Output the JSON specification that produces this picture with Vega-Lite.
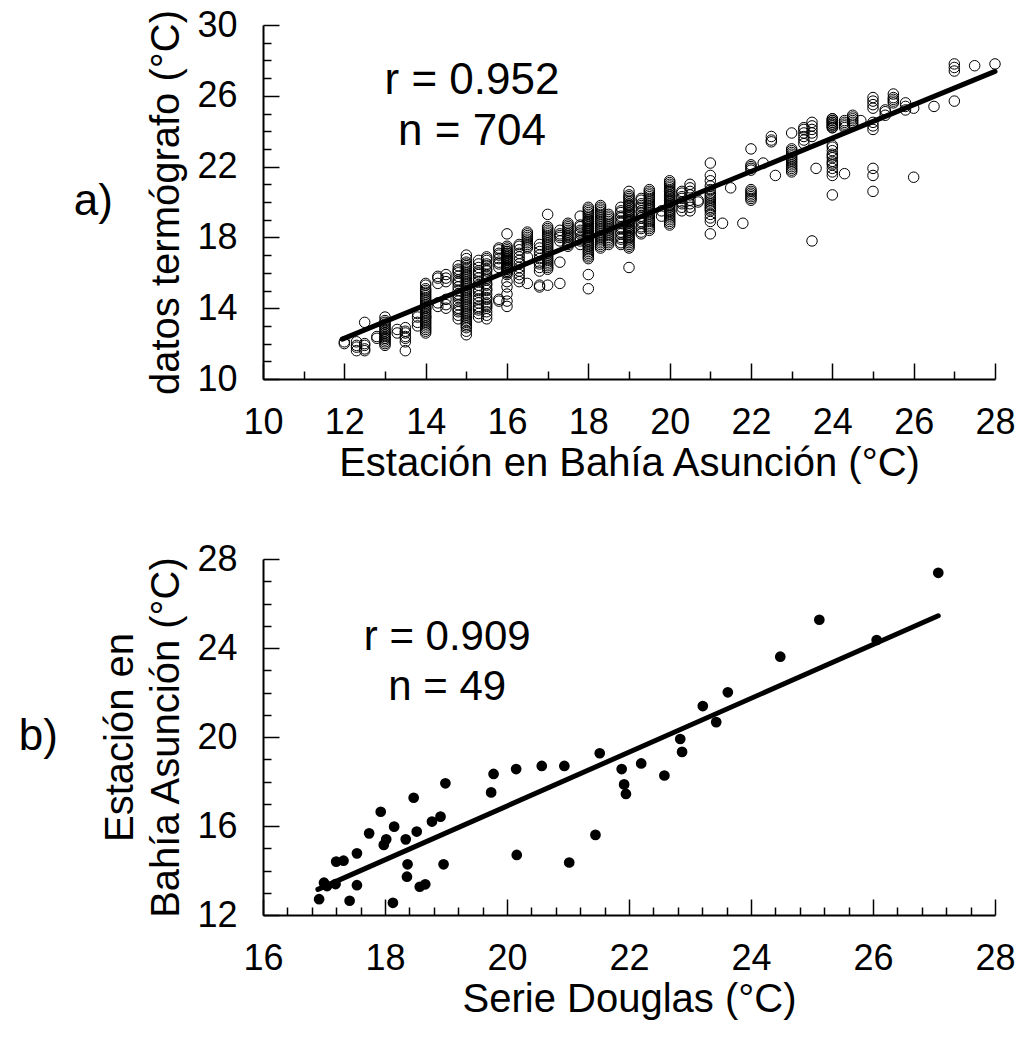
{
  "$schema": "https://vega.github.io/schema/vega-lite/v6.json",
  "background": "white",
  "padding": {"left": 18, "top": 7, "right": 4, "bottom": 4},
  "spacing": 58,
  "config": {
    "view": {"stroke": null},
    "font": "Liberation Sans",
    "axis": {
      "grid": false,
      "domainColor": "black",
      "domainWidth": 2,
      "tickColor": "black",
      "tickWidth": 1.5,
      "labelFont": "Liberation Sans",
      "labelFontSize": 36,
      "labelColor": "black",
      "labelFlush": false,
      "labelOverlap": false,
      "labelBound": false,
      "labelPadding": 42,
      "titleFont": "Liberation Sans",
      "titleFontSize": 40,
      "titleFontWeight": "normal",
      "titleColor": "black"
    },
    "title": {"font": "Liberation Sans", "fontSize": 44, "fontWeight": "normal", "color": "black"}
  },
  "datasets": {
    "termografo": [
      {"x":12,"y":12},{"x":12,"y":12.1},
      {"x":12.3,"y":11.6},{"x":12.3,"y":11.8},{"x":12.3,"y":11.9},{"x":12.3,"y":12.1},
      {"x":12.5,"y":11.6},{"x":12.5,"y":11.7},{"x":12.5,"y":11.9},{"x":12.5,"y":12},{"x":12.5,"y":13.2},
      {"x":12.8,"y":12.3},{"x":12.8,"y":12.4},
      {"x":13,"y":11.9},{"x":13,"y":12},{"x":13,"y":12.1},{"x":13,"y":12.2},{"x":13,"y":12.3},{"x":13,"y":12.3},{"x":13,"y":12.4},{"x":13,"y":12.5},{"x":13,"y":12.6},{"x":13,"y":12.6},{"x":13,"y":12.7},{"x":13,"y":12.8},{"x":13,"y":12.9},{"x":13,"y":13},{"x":13,"y":13.1},{"x":13,"y":13.2},{"x":13,"y":13.3},{"x":13,"y":13.5},
      {"x":13.3,"y":12.6},{"x":13.3,"y":12.8},
      {"x":13.5,"y":11.6},{"x":13.5,"y":12.1},{"x":13.5,"y":12.3},{"x":13.5,"y":12.4},{"x":13.5,"y":12.6},{"x":13.5,"y":12.7},{"x":13.5,"y":12.9},
      {"x":13.8,"y":13},{"x":13.8,"y":13.2},{"x":13.8,"y":13.5},{"x":13.8,"y":13.7},
      {"x":14,"y":12.6},{"x":14,"y":12.7},{"x":14,"y":12.8},{"x":14,"y":12.9},{"x":14,"y":13},{"x":14,"y":13.1},{"x":14,"y":13.2},{"x":14,"y":13.3},{"x":14,"y":13.4},{"x":14,"y":13.5},{"x":14,"y":13.6},{"x":14,"y":13.7},{"x":14,"y":13.8},{"x":14,"y":13.9},{"x":14,"y":14},{"x":14,"y":14.1},{"x":14,"y":14.2},{"x":14,"y":14.3},{"x":14,"y":14.4},{"x":14,"y":14.5},{"x":14,"y":14.6},{"x":14,"y":14.7},{"x":14,"y":14.8},{"x":14,"y":14.9},{"x":14,"y":15},{"x":14,"y":15.1},{"x":14,"y":15.3},{"x":14,"y":15.4},{"x":14,"y":13.5},{"x":14,"y":14},
      {"x":14.3,"y":14.1},{"x":14.3,"y":14.3},{"x":14.3,"y":15.4},{"x":14.3,"y":15.7},{"x":14.3,"y":15.8},
      {"x":14.5,"y":14},{"x":14.5,"y":14.2},{"x":14.5,"y":14.5},{"x":14.5,"y":15.5},{"x":14.5,"y":15.7},{"x":14.5,"y":15.9},
      {"x":14.8,"y":13.4},{"x":14.8,"y":13.6},{"x":14.8,"y":13.8},{"x":14.8,"y":13.9},{"x":14.8,"y":14},{"x":14.8,"y":14.2},{"x":14.8,"y":14.4},{"x":14.8,"y":14.6},{"x":14.8,"y":14.7},{"x":14.8,"y":14.8},{"x":14.8,"y":15},{"x":14.8,"y":15.2},{"x":14.8,"y":15.4},{"x":14.8,"y":15.5},{"x":14.8,"y":15.6},{"x":14.8,"y":15.8},{"x":14.8,"y":16},{"x":14.8,"y":16.1},{"x":14.8,"y":16.2},{"x":14.8,"y":16.4},
      {"x":15,"y":12.5},{"x":15,"y":12.7},{"x":15,"y":12.9},{"x":15,"y":13},{"x":15,"y":13.1},{"x":15,"y":13.2},{"x":15,"y":13.3},{"x":15,"y":13.4},{"x":15,"y":13.5},{"x":15,"y":13.6},{"x":15,"y":13.7},{"x":15,"y":13.8},{"x":15,"y":13.9},{"x":15,"y":14},{"x":15,"y":14.1},{"x":15,"y":14.2},{"x":15,"y":14.3},{"x":15,"y":14.4},{"x":15,"y":14.5},{"x":15,"y":14.6},{"x":15,"y":14.7},{"x":15,"y":14.8},{"x":15,"y":14.9},{"x":15,"y":15},{"x":15,"y":15.1},{"x":15,"y":15.2},{"x":15,"y":15.3},{"x":15,"y":15.4},{"x":15,"y":15.5},{"x":15,"y":15.6},{"x":15,"y":15.7},{"x":15,"y":15.8},{"x":15,"y":15.9},{"x":15,"y":16},{"x":15,"y":16.1},{"x":15,"y":16.2},{"x":15,"y":16.3},{"x":15,"y":16.4},{"x":15,"y":16.5},{"x":15,"y":16.6},{"x":15,"y":16.8},{"x":15,"y":17},
      {"x":15.3,"y":13.5},{"x":15.3,"y":13.7},{"x":15.3,"y":13.9},{"x":15.3,"y":14},{"x":15.3,"y":14.1},{"x":15.3,"y":14.3},{"x":15.3,"y":14.5},{"x":15.3,"y":14.7},{"x":15.3,"y":14.9},{"x":15.3,"y":15},{"x":15.3,"y":15.1},{"x":15.3,"y":15.3},{"x":15.3,"y":15.5},{"x":15.3,"y":15.7},{"x":15.3,"y":15.9},{"x":15.3,"y":16},{"x":15.3,"y":16.1},{"x":15.3,"y":16.3},{"x":15.3,"y":16.5},{"x":15.3,"y":16.7},
      {"x":15.5,"y":13.4},{"x":15.5,"y":13.6},{"x":15.5,"y":13.8},{"x":15.5,"y":14},{"x":15.5,"y":14.1},{"x":15.5,"y":14.2},{"x":15.5,"y":14.3},{"x":15.5,"y":14.5},{"x":15.5,"y":14.6},{"x":15.5,"y":14.8},{"x":15.5,"y":15},{"x":15.5,"y":15.1},{"x":15.5,"y":15.3},{"x":15.5,"y":15.4},{"x":15.5,"y":15.6},{"x":15.5,"y":15.7},{"x":15.5,"y":15.8},{"x":15.5,"y":15.9},{"x":15.5,"y":16.1},{"x":15.5,"y":16.2},{"x":15.5,"y":16.4},{"x":15.5,"y":16.5},{"x":15.5,"y":16.7},{"x":15.5,"y":16.8},{"x":15.5,"y":16.9},
      {"x":15.8,"y":14.4},{"x":15.8,"y":14.5},{"x":15.8,"y":16.3},{"x":15.8,"y":16.5},{"x":15.8,"y":16.6},{"x":15.8,"y":16.8},{"x":15.8,"y":17},{"x":15.8,"y":17.1},{"x":15.8,"y":17.3},{"x":15.8,"y":17.4},
      {"x":16,"y":14.1},{"x":16,"y":14.4},{"x":16,"y":14.8},{"x":16,"y":15.2},{"x":16,"y":15.5},{"x":16,"y":18.2},{"x":16,"y":15.9},{"x":16,"y":16},{"x":16,"y":16.1},{"x":16,"y":16.2},{"x":16,"y":16.3},{"x":16,"y":16.4},{"x":16,"y":16.5},{"x":16,"y":16.6},{"x":16,"y":16.7},{"x":16,"y":16.8},{"x":16,"y":16.9},{"x":16,"y":17},{"x":16,"y":17.1},{"x":16,"y":17.2},{"x":16,"y":17.3},{"x":16,"y":17.4},{"x":16,"y":17.5},{"x":16,"y":16},{"x":16,"y":16.2},{"x":16,"y":16.3},{"x":16,"y":16.4},{"x":16,"y":16.5},{"x":16,"y":16.6},{"x":16,"y":16.7},{"x":16,"y":16.8},{"x":16,"y":16.9},{"x":16,"y":17},{"x":16,"y":17.1},{"x":16,"y":17.2},
      {"x":16.3,"y":15.5},{"x":16.3,"y":15.7},{"x":16.3,"y":15.9},{"x":16.3,"y":16.1},{"x":16.3,"y":16.3},{"x":16.3,"y":16.5},{"x":16.3,"y":16.7},{"x":16.3,"y":16.9},{"x":16.3,"y":17.1},{"x":16.3,"y":17.3},{"x":16.3,"y":17.5},{"x":16.3,"y":17.6},
      {"x":16.5,"y":15.4},{"x":16.5,"y":16.9},{"x":16.5,"y":17.4},{"x":16.5,"y":17.5},{"x":16.5,"y":17.6},{"x":16.5,"y":17.7},{"x":16.5,"y":17.8},{"x":16.5,"y":17.9},{"x":16.5,"y":18},{"x":16.5,"y":18.1},{"x":16.5,"y":18.2},{"x":16.5,"y":18.3},
      {"x":16.8,"y":15.2},{"x":16.8,"y":15.3},{"x":16.8,"y":16.1},{"x":16.8,"y":16.3},{"x":16.8,"y":16.5},{"x":16.8,"y":16.6},{"x":16.8,"y":16.8},{"x":16.8,"y":17},{"x":16.8,"y":17.2},{"x":16.8,"y":17.4},{"x":16.8,"y":17.6},
      {"x":17,"y":15.3},{"x":17,"y":19.3},{"x":17,"y":16.2},{"x":17,"y":16.3},{"x":17,"y":16.4},{"x":17,"y":16.5},{"x":17,"y":16.6},{"x":17,"y":16.7},{"x":17,"y":16.8},{"x":17,"y":16.9},{"x":17,"y":17},{"x":17,"y":17.1},{"x":17,"y":17.2},{"x":17,"y":17.3},{"x":17,"y":17.4},{"x":17,"y":17.5},{"x":17,"y":17.6},{"x":17,"y":17.7},{"x":17,"y":17.8},{"x":17,"y":17.9},{"x":17,"y":18},{"x":17,"y":18.1},{"x":17,"y":18.2},{"x":17,"y":18.3},{"x":17,"y":18.4},{"x":17,"y":18.5},{"x":17,"y":18.6},
      {"x":17.3,"y":15.4},{"x":17.3,"y":16.6},{"x":17.3,"y":17.8},{"x":17.3,"y":18},{"x":17.3,"y":18.1},{"x":17.3,"y":18.2},{"x":17.3,"y":18.4},
      {"x":17.5,"y":17.5},{"x":17.5,"y":17.6},{"x":17.5,"y":17.7},{"x":17.5,"y":17.8},{"x":17.5,"y":17.9},{"x":17.5,"y":18},{"x":17.5,"y":18.1},{"x":17.5,"y":18.2},{"x":17.5,"y":18.3},{"x":17.5,"y":18.4},{"x":17.5,"y":18.5},{"x":17.5,"y":18.6},{"x":17.5,"y":18.7},{"x":17.5,"y":18.8},
      {"x":17.8,"y":17.6},{"x":17.8,"y":17.8},{"x":17.8,"y":17.9},{"x":17.8,"y":18},{"x":17.8,"y":18.2},{"x":17.8,"y":18.3},{"x":17.8,"y":18.4},{"x":17.8,"y":18.6},{"x":17.8,"y":18.7},{"x":17.8,"y":19.2},
      {"x":18,"y":15.1},{"x":18,"y":15.9},{"x":18,"y":16.8},{"x":18,"y":16.9},{"x":18,"y":17},{"x":18,"y":17.1},{"x":18,"y":17.2},{"x":18,"y":17.3},{"x":18,"y":17.4},{"x":18,"y":17.5},{"x":18,"y":17.6},{"x":18,"y":17.7},{"x":18,"y":17.8},{"x":18,"y":17.9},{"x":18,"y":18},{"x":18,"y":18.1},{"x":18,"y":18.2},{"x":18,"y":18.3},{"x":18,"y":18.4},{"x":18,"y":18.5},{"x":18,"y":18.6},{"x":18,"y":18.7},{"x":18,"y":18.8},{"x":18,"y":18.9},{"x":18,"y":19},{"x":18,"y":19.1},{"x":18,"y":19.2},{"x":18,"y":19.3},{"x":18,"y":19.4},{"x":18,"y":19.5},{"x":18,"y":19.6},{"x":18,"y":19.7},{"x":18,"y":17.5},{"x":18,"y":17.8},{"x":18,"y":18},{"x":18,"y":18.2},{"x":18,"y":18.4},{"x":18,"y":18.6},{"x":18,"y":18.8},{"x":18,"y":19},{"x":18,"y":18.1},{"x":18,"y":18.3},{"x":18,"y":18.5},{"x":18,"y":18.7},{"x":18,"y":18.9},
      {"x":18.3,"y":17.4},{"x":18.3,"y":17.5},{"x":18.3,"y":17.6},{"x":18.3,"y":17.7},{"x":18.3,"y":17.8},{"x":18.3,"y":17.9},{"x":18.3,"y":18},{"x":18.3,"y":18.1},{"x":18.3,"y":18.2},{"x":18.3,"y":18.3},{"x":18.3,"y":18.4},{"x":18.3,"y":18.5},{"x":18.3,"y":18.6},{"x":18.3,"y":18.7},{"x":18.3,"y":18.8},{"x":18.3,"y":18.9},{"x":18.3,"y":19},{"x":18.3,"y":19.1},{"x":18.3,"y":19.2},{"x":18.3,"y":19.3},{"x":18.3,"y":19.4},{"x":18.3,"y":19.5},{"x":18.3,"y":19.6},{"x":18.3,"y":19.7},{"x":18.3,"y":19.8},
      {"x":18.5,"y":17.6},{"x":18.5,"y":17.7},{"x":18.5,"y":17.8},{"x":18.5,"y":17.9},{"x":18.5,"y":18},{"x":18.5,"y":18.1},{"x":18.5,"y":18.2},{"x":18.5,"y":18.3},{"x":18.5,"y":18.4},{"x":18.5,"y":18.5},{"x":18.5,"y":18.6},{"x":18.5,"y":18.7},{"x":18.5,"y":18.8},{"x":18.5,"y":18.9},{"x":18.5,"y":19},{"x":18.5,"y":19.1},{"x":18.5,"y":19.2},{"x":18.5,"y":19.3},
      {"x":18.8,"y":17.6},{"x":18.8,"y":17.7},{"x":18.8,"y":17.9},{"x":18.8,"y":18},{"x":18.8,"y":18.2},{"x":18.8,"y":18.3},{"x":18.8,"y":18.5},{"x":18.8,"y":18.6},{"x":18.8,"y":18.8},{"x":18.8,"y":18.9},{"x":18.8,"y":19.1},{"x":18.8,"y":19.2},{"x":18.8,"y":19.4},{"x":18.8,"y":19.5},{"x":18.8,"y":19.7},
      {"x":19,"y":16.3},{"x":19,"y":20.6},{"x":19,"y":17.4},{"x":19,"y":17.5},{"x":19,"y":17.6},{"x":19,"y":17.7},{"x":19,"y":17.8},{"x":19,"y":17.9},{"x":19,"y":18},{"x":19,"y":18.1},{"x":19,"y":18.2},{"x":19,"y":18.3},{"x":19,"y":18.4},{"x":19,"y":18.5},{"x":19,"y":18.6},{"x":19,"y":18.7},{"x":19,"y":18.8},{"x":19,"y":18.9},{"x":19,"y":19},{"x":19,"y":19.1},{"x":19,"y":19.2},{"x":19,"y":19.3},{"x":19,"y":19.4},{"x":19,"y":19.5},{"x":19,"y":19.6},{"x":19,"y":19.7},{"x":19,"y":19.8},{"x":19,"y":19.9},{"x":19,"y":20},{"x":19,"y":20.1},{"x":19,"y":20.2},{"x":19,"y":20.3},{"x":19,"y":20.4},{"x":19,"y":18},{"x":19,"y":18.3},{"x":19,"y":18.6},{"x":19,"y":18.9},{"x":19,"y":19.2},{"x":19,"y":19.5},{"x":19,"y":19.8},{"x":19,"y":18.4},{"x":19,"y":19},
      {"x":19.3,"y":18.2},{"x":19.3,"y":18.3},{"x":19.3,"y":18.5},{"x":19.3,"y":18.6},{"x":19.3,"y":18.8},{"x":19.3,"y":18.9},{"x":19.3,"y":19.1},{"x":19.3,"y":19.2},{"x":19.3,"y":19.4},{"x":19.3,"y":19.5},{"x":19.3,"y":19.7},{"x":19.3,"y":19.8},{"x":19.3,"y":19.9},{"x":19.3,"y":20.1},{"x":19.3,"y":20.2},
      {"x":19.5,"y":18.4},{"x":19.5,"y":18.5},{"x":19.5,"y":18.6},{"x":19.5,"y":18.7},{"x":19.5,"y":18.8},{"x":19.5,"y":18.9},{"x":19.5,"y":19},{"x":19.5,"y":19.1},{"x":19.5,"y":19.2},{"x":19.5,"y":19.3},{"x":19.5,"y":19.4},{"x":19.5,"y":19.5},{"x":19.5,"y":19.6},{"x":19.5,"y":19.7},{"x":19.5,"y":19.8},{"x":19.5,"y":19.9},{"x":19.5,"y":20},{"x":19.5,"y":20.1},{"x":19.5,"y":20.2},{"x":19.5,"y":20.3},{"x":19.5,"y":20.4},{"x":19.5,"y":20.5},{"x":19.5,"y":20.6},{"x":19.5,"y":20.7},{"x":19.5,"y":19.6},
      {"x":19.8,"y":19.2},{"x":19.8,"y":19.5},
      {"x":20,"y":18.7},{"x":20,"y":18.8},{"x":20,"y":18.9},{"x":20,"y":19},{"x":20,"y":19.1},{"x":20,"y":19.2},{"x":20,"y":19.3},{"x":20,"y":19.4},{"x":20,"y":19.5},{"x":20,"y":19.6},{"x":20,"y":19.7},{"x":20,"y":19.8},{"x":20,"y":19.9},{"x":20,"y":20},{"x":20,"y":20.1},{"x":20,"y":20.2},{"x":20,"y":20.3},{"x":20,"y":20.4},{"x":20,"y":20.5},{"x":20,"y":20.6},{"x":20,"y":20.7},{"x":20,"y":20.8},{"x":20,"y":20.9},{"x":20,"y":21},{"x":20,"y":21.1},{"x":20,"y":21.2},{"x":20,"y":19.5},{"x":20,"y":19.8},{"x":20,"y":20.1},{"x":20,"y":20.4},{"x":20,"y":20.6},{"x":20,"y":20},{"x":20,"y":20.3},
      {"x":20.3,"y":19.5},{"x":20.3,"y":19.7},{"x":20.3,"y":19.9},{"x":20.3,"y":20},{"x":20.3,"y":20.2},{"x":20.3,"y":20.3},{"x":20.3,"y":20.5},{"x":20.3,"y":20.6},
      {"x":20.5,"y":19.5},{"x":20.5,"y":19.7},{"x":20.5,"y":19.9},{"x":20.5,"y":20.1},{"x":20.5,"y":20.4},{"x":20.5,"y":20.6},{"x":20.5,"y":20.8},{"x":20.5,"y":21},
      {"x":20.7,"y":20},{"x":20.7,"y":20.1},
      {"x":21,"y":22.2},{"x":21,"y":21.5},{"x":21,"y":21.2},{"x":21,"y":20.9},{"x":21,"y":20.7},{"x":21,"y":20.4},{"x":21,"y":20.3},{"x":21,"y":20.2},{"x":21,"y":20.1},{"x":21,"y":20},{"x":21,"y":19.9},{"x":21,"y":19.8},{"x":21,"y":19.7},{"x":21,"y":19.6},{"x":21,"y":19.5},{"x":21,"y":19.3},{"x":21,"y":19.1},{"x":21,"y":18.9},{"x":21,"y":18.2},{"x":21,"y":20.5},
      {"x":21.3,"y":18.8},{"x":21.5,"y":20.8},{"x":21.8,"y":18.8},
      {"x":22,"y":23},{"x":22,"y":22.1},{"x":22,"y":22},{"x":22,"y":21.9},{"x":22,"y":21.8},{"x":22,"y":20.7},{"x":22,"y":20.6},{"x":22,"y":20.5},{"x":22,"y":20.4},{"x":22,"y":20.3},{"x":22,"y":20.2},{"x":22,"y":20.1},
      {"x":22.3,"y":22.2},
      {"x":22.5,"y":23.4},{"x":22.5,"y":23.5},{"x":22.5,"y":23.7},
      {"x":22.6,"y":21.5},
      {"x":23,"y":23.9},{"x":23,"y":23},{"x":23,"y":22.9},{"x":23,"y":22.8},{"x":23,"y":22.7},{"x":23,"y":22.6},{"x":23,"y":22.5},{"x":23,"y":22.4},{"x":23,"y":22.3},{"x":23,"y":22.2},{"x":23,"y":22.1},{"x":23,"y":22},{"x":23,"y":21.9},{"x":23,"y":21.8},{"x":23,"y":21.7},
      {"x":23.3,"y":23.3},{"x":23.3,"y":23.5},{"x":23.3,"y":23.7},{"x":23.3,"y":23.9},{"x":23.3,"y":24.1},{"x":23.3,"y":24.2},
      {"x":23.5,"y":17.8},{"x":23.5,"y":23.7},{"x":23.5,"y":23.9},{"x":23.5,"y":24.1},{"x":23.5,"y":24.3},{"x":23.5,"y":24.5},
      {"x":23.6,"y":21.9},
      {"x":24,"y":24.2},{"x":24,"y":24.3},{"x":24,"y":24.4},{"x":24,"y":24.5},{"x":24,"y":24.6},{"x":24,"y":24.7},{"x":24,"y":24.3},{"x":24,"y":24.5},{"x":24,"y":24.6},{"x":24,"y":24.4},{"x":24,"y":21.5},{"x":24,"y":21.7},{"x":24,"y":21.9},{"x":24,"y":22.1},{"x":24,"y":22.3},{"x":24,"y":22.5},{"x":24,"y":22.7},{"x":24,"y":22.9},{"x":24,"y":23.1},{"x":24,"y":23.2},{"x":24,"y":22.2},{"x":24,"y":22.6},{"x":24,"y":20.4},{"x":24,"y":24.2},{"x":24,"y":24.7},
      {"x":24.3,"y":21.6},{"x":24.3,"y":24.2},{"x":24.3,"y":24.3},{"x":24.3,"y":24.4},{"x":24.3,"y":24.5},{"x":24.3,"y":24.6},
      {"x":24.5,"y":24.4},{"x":24.5,"y":24.5},{"x":24.5,"y":24.6},{"x":24.5,"y":24.7},{"x":24.5,"y":24.8},{"x":24.5,"y":24.9},
      {"x":24.7,"y":24.6},
      {"x":25,"y":20.6},{"x":25,"y":21.5},{"x":25,"y":21.9},{"x":25,"y":24.1},{"x":25,"y":24.3},{"x":25,"y":24.5},{"x":25,"y":25.3},{"x":25,"y":25.5},{"x":25,"y":25.7},{"x":25,"y":25.9},
      {"x":25.3,"y":24.9},{"x":25.3,"y":25.1},{"x":25.3,"y":25.2},
      {"x":25.5,"y":25.6},{"x":25.5,"y":25.7},{"x":25.5,"y":25.8},{"x":25.5,"y":25.9},{"x":25.5,"y":26.1},
      {"x":25.8,"y":25.2},{"x":25.8,"y":25.4},{"x":25.8,"y":25.6},
      {"x":26,"y":21.4},{"x":26,"y":25.3},
      {"x":26.5,"y":25.4},
      {"x":27,"y":25.7},{"x":27,"y":27.4},{"x":27,"y":27.6},{"x":27,"y":27.8},
      {"x":27.5,"y":27.7},
      {"x":28,"y":27.8}
    ],
    "ajusteA": [{"x": 11.95, "y": 12.25}, {"x": 28, "y": 27.38}],
    "notasA": [{"x": 15.14, "y": 26.12, "label": "r = 0.952"}, {"x": 15.14, "y": 23.22, "label": "n = 704"}],
    "douglas": [
      {"x":16.92,"y":12.71},{"x":17.42,"y":12.64},{"x":18.13,"y":12.55},{"x":17.0,"y":13.45},{"x":17.19,"y":13.39},
      {"x":17.54,"y":13.34},{"x":17.2,"y":14.4},{"x":17.32,"y":14.44},{"x":17.54,"y":14.77},{"x":17.74,"y":15.67},
      {"x":17.93,"y":16.64},{"x":17.98,"y":15.15},{"x":18.02,"y":15.4},{"x":18.15,"y":15.97},{"x":18.34,"y":15.4},
      {"x":18.37,"y":14.28},{"x":18.36,"y":13.72},{"x":18.52,"y":15.75},{"x":18.47,"y":17.27},{"x":18.57,"y":13.27},
      {"x":18.66,"y":13.38},{"x":18.77,"y":16.2},{"x":18.91,"y":16.42},{"x":18.96,"y":14.28},{"x":18.99,"y":17.92},
      {"x":19.74,"y":17.51},{"x":19.78,"y":18.34},{"x":20.15,"y":18.56},{"x":20.16,"y":14.7},{"x":20.57,"y":18.7},
      {"x":20.94,"y":18.7},{"x":21.02,"y":14.36},{"x":21.45,"y":15.6},{"x":21.52,"y":19.27},{"x":21.88,"y":18.56},
      {"x":21.92,"y":17.87},{"x":21.95,"y":17.44},{"x":22.2,"y":18.81},{"x":22.58,"y":18.27},{"x":22.84,"y":19.91},
      {"x":22.87,"y":19.33},{"x":23.21,"y":21.39},{"x":23.43,"y":20.67},{"x":23.62,"y":22.01},{"x":24.48,"y":23.61},
      {"x":25.12,"y":25.27},{"x":26.06,"y":24.36},{"x":27.07,"y":27.38},{"x":17.05,"y":13.3}
    ],
    "ajusteB": [{"x": 16.9, "y": 13.15}, {"x": 27.07, "y": 25.45}],
    "notasB": [{"x": 19.02, "y": 23.91, "label": "r = 0.909"}, {"x": 19.02, "y": 21.66, "label": "n = 49"}]
  },
  "vconcat": [
    {
      "width": 732,
      "height": 354,
      "title": {"text": "a)", "orient": "left", "angle": 0, "frame": "group", "anchor": "middle", "align": "right", "baseline": "middle", "offset": -5},
      "encoding": {
        "x": {
          "field": "x", "type": "quantitative",
          "scale": {"domain": [10, 28], "nice": false, "zero": false},
          "axis": {
            "title": "Estación en Bahía Asunción (°C)",
            "values": [10, 11, 12, 13, 14, 15, 16, 17, 18, 19, 20, 21, 22, 23, 24, 25, 26, 27, 28],
            "labelExpr": "datum.value % 2 === 0 ? datum.label : ''",
            "tickSize": {"condition": {"test": "datum.value % 2 === 0", "value": -16}, "value": -8},
            "titlePadding": -5
          }
        },
        "y": {
          "field": "y", "type": "quantitative",
          "scale": {"domain": [10, 30], "nice": false, "zero": false},
          "axis": {
            "title": "datos termógrafo (°C)",
            "values": [10, 11, 12, 13, 14, 15, 16, 17, 18, 19, 20, 21, 22, 23, 24, 25, 26, 27, 28, 29, 30],
            "labelExpr": "datum.value % 4 === 2 ? datum.label : ''",
            "tickSize": {"condition": {"test": "datum.value % 4 === 2", "value": -16}, "value": -8},
            "titlePadding": 10
          }
        }
      },
      "layer": [
        {
          "data": {"name": "termografo"},
          "mark": {"type": "point", "shape": "circle", "filled": false, "stroke": "black", "strokeWidth": 1, "size": 110, "opacity": 1}
        },
        {
          "data": {"name": "ajusteA"},
          "mark": {"type": "line", "color": "black", "strokeWidth": 5, "strokeCap": "round"}
        },
        {
          "data": {"name": "notasA"},
          "mark": {"type": "text", "font": "Liberation Sans", "fontSize": 44, "color": "black", "align": "center", "baseline": "alphabetic"},
          "encoding": {"text": {"field": "label", "type": "nominal"}}
        }
      ]
    },
    {
      "width": 732,
      "height": 356,
      "title": {"text": "b)", "orient": "left", "angle": 0, "frame": "group", "anchor": "middle", "align": "right", "baseline": "middle", "offset": 4},
      "encoding": {
        "x": {
          "field": "x", "type": "quantitative",
          "scale": {"domain": [16, 28], "nice": false, "zero": false},
          "axis": {
            "title": "Serie Douglas (°C)",
            "values": [16, 16.4, 16.8, 17.2, 17.6, 18, 18.4, 18.8, 19.2, 19.6, 20, 20.4, 20.8, 21.2, 21.6, 22, 22.4, 22.8, 23.2, 23.6, 24, 24.4, 24.8, 25.2, 25.6, 26, 26.4, 26.8, 27.2, 27.6, 28],
            "labelExpr": "datum.value % 2 === 0 ? format(datum.value, 'd') : ''",
            "tickSize": {"condition": {"test": "datum.value % 2 === 0", "value": -16}, "value": -8},
            "titlePadding": -5
          }
        },
        "y": {
          "field": "y", "type": "quantitative",
          "scale": {"domain": [12, 28], "nice": false, "zero": false},
          "axis": {
            "title": ["Estación en", "Bahía Asunción (°C)"],
            "titleLineHeight": 46,
            "values": [12, 13, 14, 15, 16, 17, 18, 19, 20, 21, 22, 23, 24, 25, 26, 27, 28],
            "labelExpr": "datum.value % 4 === 0 ? datum.label : ''",
            "tickSize": {"condition": {"test": "datum.value % 4 === 0", "value": -16}, "value": -8},
            "titlePadding": 10
          }
        }
      },
      "layer": [
        {
          "data": {"name": "douglas"},
          "mark": {"type": "point", "shape": "circle", "filled": true, "color": "black", "size": 115, "opacity": 1}
        },
        {
          "data": {"name": "ajusteB"},
          "mark": {"type": "line", "color": "black", "strokeWidth": 5, "strokeCap": "round"}
        },
        {
          "data": {"name": "notasB"},
          "mark": {"type": "text", "font": "Liberation Sans", "fontSize": 42, "color": "black", "align": "center", "baseline": "alphabetic"},
          "encoding": {"text": {"field": "label", "type": "nominal"}}
        }
      ]
    }
  ]
}
